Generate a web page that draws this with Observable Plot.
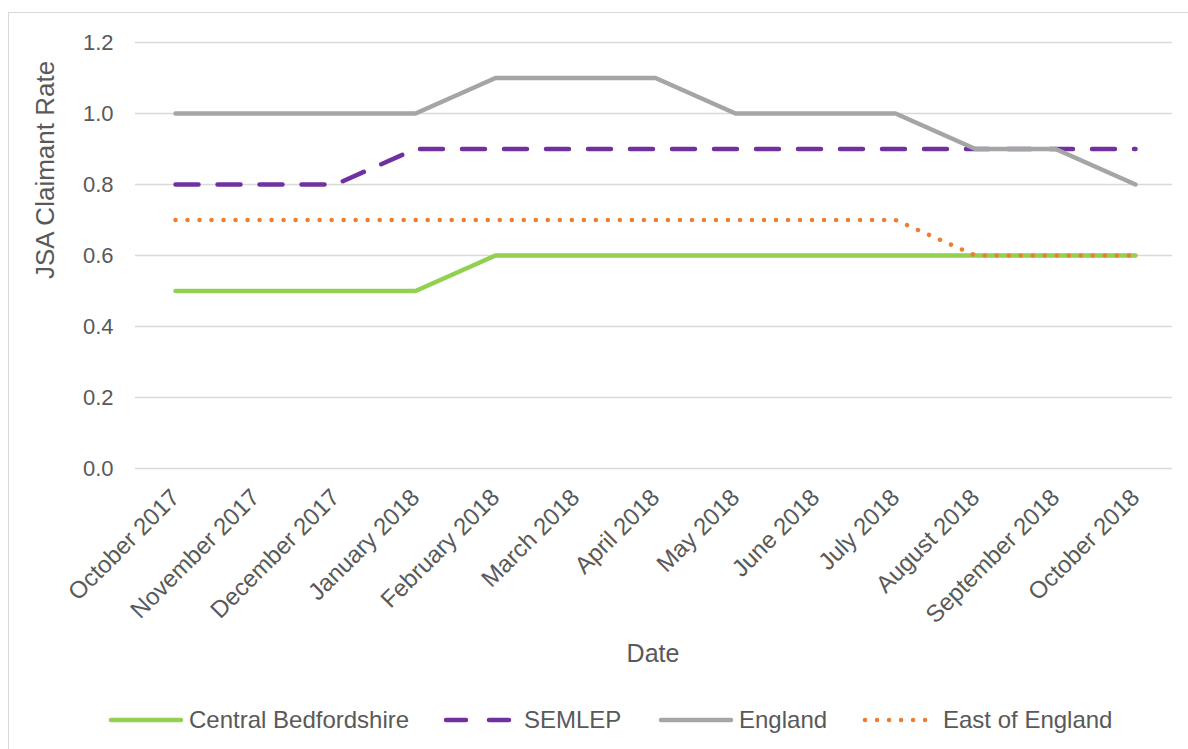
<!DOCTYPE html>
<html>
<head>
<meta charset="utf-8">
<script src="https://cdn.jsdelivr.net/npm/d3@7"></script>
<script src="https://cdn.jsdelivr.net/npm/@observablehq/plot@0.6"></script>
<style>
  html, body { margin: 0; padding: 0; background: #fff; }
  #wrap { position: relative; width: 1188px; height: 749px; overflow: hidden; font-family: "Liberation Sans", Arial, sans-serif; color: #595959; }
  #border { position: absolute; left: 8px; top: 12px; width: 1300px; height: 900px; border: 1.5px solid #d9d9d9; box-sizing: border-box; }
  #chart { position: absolute; left: 0; top: 0; }
  #ytitle { position: absolute; left: 45px; top: 170px; transform: translate(-50%, -50%) rotate(-90deg); font-size: 26px; white-space: nowrap; line-height: 1; }
  #xtitle { position: absolute; left: 653px; top: 653px; transform: translate(-50%, -50%); font-size: 25px; line-height: 1; }
  #legend { position: absolute; left: 0; top: 706px; width: 1188px; height: 28px; font-size: 24px; }
  .item { position: absolute; top: 0; display: flex; align-items: center; height: 28px; }
  .item svg { margin-right: 5px; }
</style>
</head>
<body>
<div id="wrap">
  <div id="border"></div>
  <div id="chart"></div>
  <div id="ytitle"></div>
  <div id="xtitle"></div>
  <div id="legend"></div>
</div>
<script>
const months = ["October 2017", "November 2017", "December 2017", "January 2018", "February 2018", "March 2018", "April 2018", "May 2018", "June 2018", "July 2018", "August 2018", "September 2018", "October 2018"];
const centralBedfordshire = [0.5, 0.5, 0.5, 0.5, 0.6, 0.6, 0.6, 0.6, 0.6, 0.6, 0.6, 0.6, 0.6];
const semlep = [0.8, 0.8, 0.8, 0.9, 0.9, 0.9, 0.9, 0.9, 0.9, 0.9, 0.9, 0.9, 0.9];
const england = [1.0, 1.0, 1.0, 1.0, 1.1, 1.1, 1.1, 1.0, 1.0, 1.0, 0.9, 0.9, 0.8];
const eastOfEngland = [0.7, 0.7, 0.7, 0.7, 0.7, 0.7, 0.7, 0.7, 0.7, 0.7, 0.6, 0.6, 0.6];
const yTicks = [0, 0.2, 0.4, 0.6, 0.8, 1.0, 1.2];
const yTitle = "JSA Claimant Rate";
const xTitle = "Date";

const series = [
  {name: "Central Bedfordshire", values: centralBedfordshire, color: "#92D050", dash: null},
  {name: "SEMLEP", values: semlep, color: "#7030A0", dash: "23,19"},
  {name: "England", values: england, color: "#A5A5A5", dash: null},
  {name: "East of England", values: eastOfEngland, color: "#ED7D31", dash: "0.01,12"}
];

const toRows = s => months.map((m, i) => ({month: m, value: s.values[i], series: s.name}));

const lineMarks = series.map(s => Plot.line(toRows(s), {
  x: "month", y: "value",
  stroke: s.color, strokeWidth: 4.5,
  strokeDasharray: s.dash || undefined,
  strokeLinecap: "round", strokeLinejoin: "round"
}));

const chart = Plot.plot({
  width: 1188, height: 690,
  marginLeft: 135, marginRight: 16, marginTop: 42, marginBottom: 222,
  style: {fontFamily: "'Liberation Sans', Arial, sans-serif", fontSize: "22px", color: "#595959", background: "transparent", overflow: "visible"},
  x: {type: "point", domain: months, range: [175, 1135], padding: 0},
  y: {domain: [0, 1.2]},
  marks: [
    Plot.gridY(yTicks, {stroke: "#d9d9d9", strokeOpacity: 1, strokeWidth: 1.5}),
    Plot.axisY(yTicks, {tickSize: 0, tickPadding: 22, tickFormat: d3.format(".1f"), label: null, fontSize: 22}),
    Plot.axisX({tickSize: 0, tickRotate: -45, tickPadding: 25, label: null, fontSize: 24}),
    ...lineMarks
  ]
});
document.getElementById("chart").appendChild(chart);
document.getElementById("ytitle").textContent = yTitle;
document.getElementById("xtitle").textContent = xTitle;

// Legend
const legendPos = [108, 443, 658, 862];
const legend = document.getElementById("legend");
series.forEach((s, i) => {
  const item = document.createElement("div");
  item.className = "item";
  item.style.left = legendPos[i] + "px";
  const w = 76;
  const svg = d3.create("svg").attr("width", w).attr("height", 10);
  svg.append("line").attr("x1", 3).attr("x2", w - 3).attr("y1", 5).attr("y2", 5)
    .attr("stroke", s.color).attr("stroke-width", 4.5).attr("stroke-linecap", "round")
    .attr("stroke-dasharray", s.dash ? (s.name === "SEMLEP" ? "20,23" : s.dash) : null);
  item.appendChild(svg.node());
  const t = document.createElement("span");
  t.textContent = s.name;
  item.appendChild(t);
  legend.appendChild(item);
});
</script>
</body>
</html>
